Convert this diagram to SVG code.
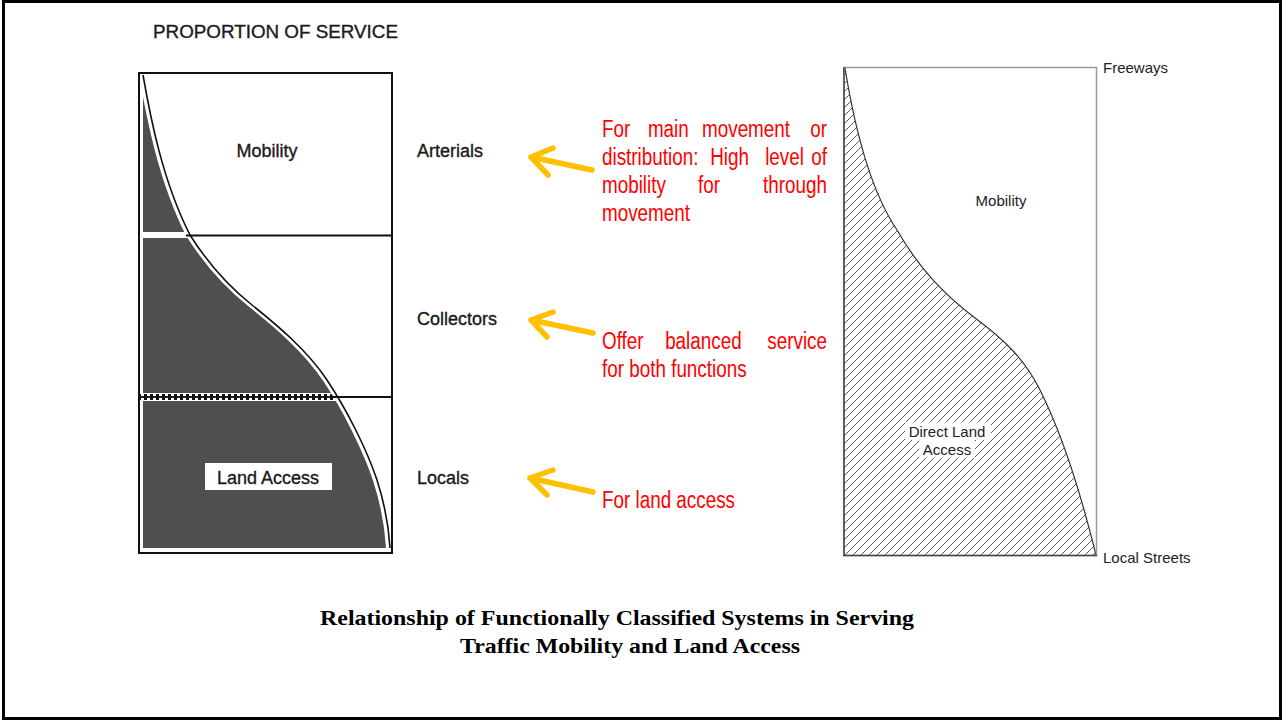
<svg xmlns="http://www.w3.org/2000/svg" width="1283" height="722" viewBox="0 0 1283 722">
<defs>
<style>
.lbl{font-family:"Liberation Sans",Arial,sans-serif;font-size:18px;fill:#1a1a1a;stroke:#1a1a1a;stroke-width:0.35;}
.red{font-family:"Liberation Sans",Arial,sans-serif;font-size:23px;fill:#ff0000;}
.rl{font-family:"Liberation Sans",Arial,sans-serif;font-size:15px;fill:#222;}
.title{font-family:"Liberation Serif","Times New Roman",serif;font-size:21px;font-weight:bold;fill:#000;}
.arr{fill:none;stroke:#ffc000;stroke-width:5.5;stroke-linecap:round;stroke-linejoin:round;}
</style>
<pattern id="hatch" patternUnits="userSpaceOnUse" width="8" height="8">
<path d="M-2,2 L2,-2 M0,8 L8,0 M6,10 L10,6" stroke="#333" stroke-width="0.8"/>
</pattern>
<pattern id="dots" patternUnits="userSpaceOnUse" x="0" y="393" width="6" height="8">
<rect x="0" y="0" width="6" height="8" fill="#fff"/>
<rect x="0" y="1" width="3" height="6" fill="#111"/>
<rect x="3" y="3" width="3" height="2" fill="#222"/>
</pattern>
</defs>
<rect x="0" y="0" width="1283" height="722" fill="#fff"/>
<rect x="3.5" y="1.5" width="1277" height="717" fill="none" stroke="#000" stroke-width="3"/>

<g id="left-chart">
<text class="lbl" x="153" y="38" textLength="245" lengthAdjust="spacingAndGlyphs">PROPORTION OF SERVICE</text>
<path d="M143,75 L141,75 C148,115 160,180 188,235 C205,262 225,285 250,305 C275,325 305,350 325,380 C345,410 365,450 375,480 C383,505 387,530 388,548 L143,548 Z" fill="#4f4f4f"/>
<rect x="141" y="232" width="50" height="6" fill="#fff"/>
<rect x="140" y="393" width="196" height="8" fill="url(#dots)"/>
<path d="M141,75 C148,115 160,180 188,235 C205,262 225,285 250,305 C275,325 305,350 325,380 C345,410 365,450 375,480 C383,505 387,530 388,548" fill="none" stroke="#fff" stroke-width="4"/>
<path d="M141,75 C148,115 160,180 188,235 C205,262 225,285 250,305 C275,325 305,350 325,380 C345,410 365,450 375,480 C383,505 387,530 388,548" fill="none" stroke="#111" stroke-width="1.6" transform="translate(2,0)"/>
<rect x="139" y="73" width="253" height="480" fill="none" stroke="#111" stroke-width="2"/>
<line x1="186" y1="235.5" x2="392" y2="235.5" stroke="#111" stroke-width="2"/>
<line x1="333" y1="397" x2="392" y2="397" stroke="#111" stroke-width="2"/>
<text class="lbl" x="267" y="157" text-anchor="middle">Mobility</text>
<rect x="205" y="463" width="127" height="27" fill="#fff"/>
<text class="lbl" x="268" y="484" text-anchor="middle">Land Access</text>
</g>

<g id="arterials">
<text class="lbl" x="417" y="157">Arterials</text>
</g>
<g id="collectors">
<text class="lbl" x="417" y="325">Collectors</text>
</g>
<g id="locals">
<text class="lbl" x="417" y="484">Locals</text>
</g>

<g id="connectors">
<path class="arr" d="M592,170 L531,157 M553,148 L531,157 L548,175"/>
<path class="arr" d="M593,333 L531,320 M553,312 L531,320 L547,337"/>
<path class="arr" d="M593,492 L530,478 M553,470 L530,478 L547,495"/>
</g>

<g id="note-arterials" transform="matrix(0.82,0,0,1,602,0)">
<text class="red" y="137"><tspan x="0">For</tspan><tspan x="56">main</tspan><tspan x="122">movement</tspan><tspan x="274.4" text-anchor="end">or</tspan></text>
<text class="red" y="165"><tspan x="0">distribution:</tspan><tspan x="132">High</tspan><tspan x="199">level</tspan><tspan x="274.4" text-anchor="end">of</tspan></text>
<text class="red" y="193"><tspan x="0">mobility</tspan><tspan x="117">for</tspan><tspan x="274.4" text-anchor="end">through</tspan></text>
<text class="red" y="221" x="0">movement</text>
</g>
<g id="note-collectors" transform="matrix(0.82,0,0,1,602,0)">
<text class="red" y="349"><tspan x="0">Offer</tspan><tspan x="77">balanced</tspan><tspan x="274.4" text-anchor="end">service</tspan></text>
<text class="red" y="377" x="0">for both functions</text>
</g>
<g id="note-locals" transform="matrix(0.82,0,0,1,602,0)">
<text class="red" y="508" x="0">For land access</text>
</g>

<g id="right-chart">
<path d="M845,68 C855,130 870,190 897,230 C920,270 945,295 975,318 C1005,340 1025,360 1040,390 C1060,430 1080,490 1096,555 L845,555 Z" fill="url(#hatch)"/>
<path d="M845,68 C855,130 870,190 897,230 C920,270 945,295 975,318 C1005,340 1025,360 1040,390 C1060,430 1080,490 1096,555" fill="none" stroke="#333" stroke-width="1.2"/>
<rect x="844" y="67.5" width="252.5" height="488" fill="none" stroke="#999" stroke-width="1.5"/>
<line x1="844" y1="67" x2="844" y2="556" stroke="#444" stroke-width="1.5"/>
<line x1="843" y1="555.5" x2="1097" y2="555.5" stroke="#444" stroke-width="1.5"/>
<rect x="905" y="422" width="86" height="18" fill="#fff"/>
<rect x="919" y="440" width="56" height="18" fill="#fff"/>
<text class="rl" x="947" y="437" text-anchor="middle">Direct Land</text>
<text class="rl" x="947" y="455" text-anchor="middle">Access</text>
<text class="rl" x="1001" y="206" text-anchor="middle">Mobility</text>
<text class="rl" x="1103" y="73">Freeways</text>
<text class="rl" x="1103" y="563">Local Streets</text>
</g>

<g id="caption">
<text class="title" x="320" y="625" textLength="594" lengthAdjust="spacingAndGlyphs">Relationship of Functionally Classified Systems in Serving</text>
<text class="title" x="460" y="653" textLength="340" lengthAdjust="spacingAndGlyphs">Traffic Mobility and Land Access</text>
</g>
</svg>
